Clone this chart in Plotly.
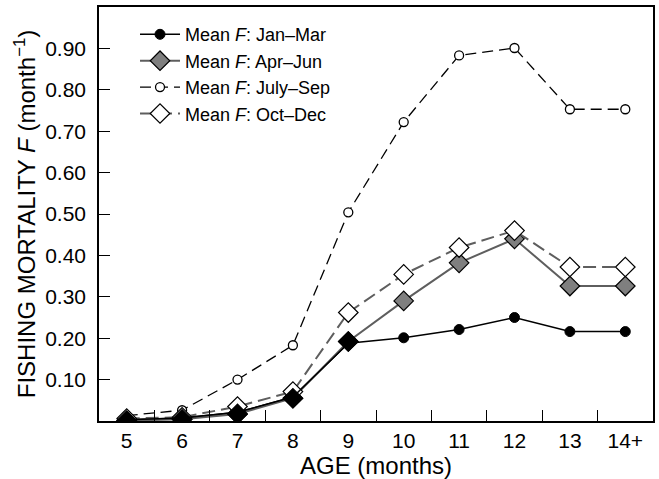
import plotly.graph_objects as go

ages = ["5", "6", "7", "8", "9", "10", "11", "12", "13", "14+"]
f_jan_mar = [0.003, 0.007, 0.021, 0.058, 0.188, 0.201, 0.221, 0.250, 0.216, 0.216]
f_apr_jun = [0.001, 0.004, 0.017, 0.055, 0.192, 0.290, 0.382, 0.440, 0.326, 0.326]
f_jul_sep = [0.013, 0.026, 0.100, 0.183, 0.504, 0.722, 0.883, 0.901, 0.753, 0.753]
f_oct_dec = [0.006, 0.009, 0.035, 0.071, 0.262, 0.354, 0.419, 0.460, 0.372, 0.372]
y_ticks = [0.10, 0.20, 0.30, 0.40, 0.50, 0.60, 0.70, 0.80, 0.90]

FONT = "Liberation Sans, Arial, sans-serif"

fig = go.Figure()
fig.add_trace(go.Scatter(
    x=ages, y=f_jan_mar, name="Mean <i>F</i>: Jan–Mar", mode="lines+markers",
    line=dict(color="black", width=1.5),
    marker=dict(symbol="circle", size=10, color="black", line=dict(color="black", width=1)),
    legendrank=1,
))
fig.add_trace(go.Scatter(
    x=ages, y=f_apr_jun, name="Mean <i>F</i>: Apr–Jun", mode="lines+markers",
    line=dict(color="#5e5e5e", width=2),
    marker=dict(symbol="diamond", size=15, color="#7f7f7f", line=dict(color="black", width=1.2)),
    legendrank=2,
))
fig.add_trace(go.Scatter(
    x=ages, y=f_jul_sep, name="Mean <i>F</i>: July–Sep", mode="lines+markers",
    line=dict(color="black", width=1.3, dash="11px,6px"),
    marker=dict(symbol="circle", size=9, color="white", line=dict(color="black", width=1.3)),
    legendrank=3,
))
fig.add_trace(go.Scatter(
    x=ages, y=f_oct_dec, name="Mean <i>F</i>: Oct–Dec", mode="lines+markers",
    line=dict(color="#5e5e5e", width=2, dash="13px,6px"),
    marker=dict(symbol="diamond", size=15, color="white", line=dict(color="black", width=1.2)),
    legendrank=4,
))
# where Apr-Jun coincides with Jan-Mar the diamonds look black (overlapped marks)
ov_x = [a for a, p, j in zip(ages, f_apr_jun, f_jan_mar) if abs(p - j) < 0.01]
ov_y = [p for p, j in zip(f_apr_jun, f_jan_mar) if abs(p - j) < 0.01]
fig.add_trace(go.Scatter(
    x=ov_x, y=ov_y, mode="markers", showlegend=False, hoverinfo="skip",
    marker=dict(symbol="diamond", size=15, color="black", line=dict(color="black", width=1.2)),
))
fig.add_trace(go.Scatter(
    x=ages[:5], y=f_jan_mar[:5], mode="lines+markers", showlegend=False, hoverinfo="skip",
    line=dict(color="black", width=1.5),
    marker=dict(symbol="circle", size=10, color="black"),
))

fig.update_layout(
    width=659, height=479,
    margin=dict(l=99, r=4, t=7, b=56),
    paper_bgcolor="white", plot_bgcolor="white",
    font=dict(family=FONT, color="black", size=21),
    showlegend=True,
    legend=dict(
        x=0.065, y=0.978, xanchor="left", yanchor="top",
        bgcolor="rgba(0,0,0,0)", borderwidth=0,
        font=dict(size=18, family=FONT),
        itemwidth=40,
    ),
)

fig.update_xaxes(
    type="category", range=[-0.5, 9.5],
    showline=True, linecolor="black", linewidth=1.5, mirror=True,
    ticks="inside", ticklen=11, tickwidth=1.2, tickcolor="black",
    tickson="boundaries", showgrid=False, zeroline=False,
    tickfont=dict(size=21, family=FONT),
    title=dict(text="AGE (months)", font=dict(size=24, family=FONT), standoff=6),
)
fig.update_yaxes(
    range=[0, 1.0],
    tickvals=y_ticks, ticktext=[f"{v:.2f}" for v in y_ticks],
    showline=True, linecolor="black", linewidth=1.5, mirror=True,
    ticks="inside", ticklen=11, tickwidth=1.2, tickcolor="black",
    showgrid=False, zeroline=False, ticklabelstandoff=7,
    tickfont=dict(size=21, family=FONT),
    title=dict(text="FISHING MORTALITY <i>F</i> (month<sup>−1</sup>)", font=dict(size=24, family=FONT), standoff=3),
)

fig.write_html("out.html")
